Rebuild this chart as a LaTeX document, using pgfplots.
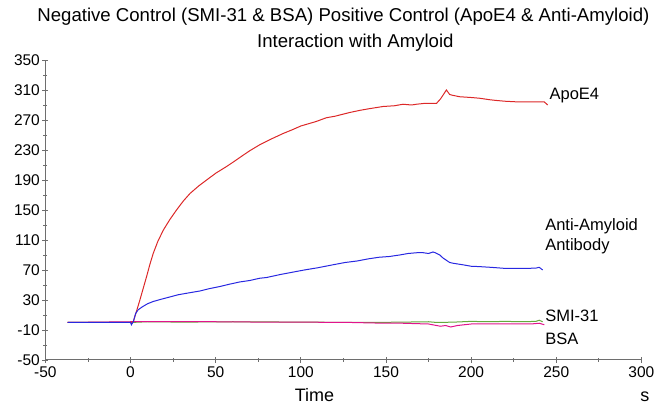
\documentclass[border=0pt]{standalone}
\usepackage{fontspec}
\setmainfont{Liberation Sans}
\usepackage{pgfplots}
\pgfplotsset{compat=1.18}

\definecolor{apoe}{RGB}{220,40,40}
\definecolor{anti}{RGB}{40,40,225}
\definecolor{smi}{RGB}{100,170,60}
\definecolor{bsa}{RGB}{225,20,140}
\definecolor{axisgray}{RGB}{110,110,110}

\begin{document}
\begin{tikzpicture}
\begin{axis}[
    name=ax,
    scale only axis,
    width=596pt, height=300pt,
    xmin=-50, xmax=300,
    ymin=-50, ymax=350,
    xtick={-50,0,...,300},
    ytick={-50,-10,...,350},
    minor x tick num=1,
    minor y tick num=1,
    axis lines*=left,
    axis line style={axisgray, line width=1pt, -},
    tick style={axisgray, line width=0.8pt},
    major tick length=6pt,
    minor tick length=4pt,
    tick align=center,
    /pgf/number format/assume math mode=true,
    ticklabel style={font=\fontsize{15.5}{17}\selectfont},
    yticklabel style={xshift=1pt},
    clip=false,
]
% pre-injection baseline and curves
\addplot[color=smi, line width=1pt] coordinates {
(-37,0) (0,0) (10,1) (30,0.5) (60,1) (100,0.5) (140,0) (160,0.5) (175,1) (180,0)
(190,0.5) (200,1.5) (210,1) (220,1.5) (230,1) (238,1.5) (240,3) (242,1)
};
\addplot[color=bsa, line width=1pt] coordinates {
(-37,0) (0,1) (20,1) (50,1) (80,0.5) (100,0.5) (130,0) (150,-1) (160,-1) (175,-2)
(182,-5) (185,-4) (188,-6) (192,-4) (200,-2) (220,-2) (235,-2) (240,-1) (243,-3)
};
\addplot[color=apoe, line width=1pt] coordinates {
(-37,0) (0,0) (1.6,1) (3.5,15) (5.5,30) (7.5,46) (9.4,61) (11.3,77) (13.3,92) (16,108)
(19.2,123) (23,137) (27,150) (31,162) (34.9,172) (40,182) (44.7,190) (50,199) (56.4,208)
(61,215) (66.1,223) (70,229) (75.9,237) (82,244) (89.6,252) (95,257) (100,262) (109,268)
(115,273) (120,275) (128.7,280) (135,283) (140,285) (148.3,288) (155,289) (160,291)
(165,290) (167.9,291) (172,292) (179.6,292) (182,298) (185.5,310) (187.4,304) (189,303)
(193.3,301) (200,300) (205,299) (211,297) (215,296) (220,295) (228.5,294) (235,294)
(240,294) (243,294) (245,290)
};
\addplot[color=anti, line width=1pt] coordinates {
(-37,0) (0,0) (0.5,-3) (1.6,1) (3,12) (4.5,17) (7,21) (10,25) (13.3,28) (18,31) (23,34)
(28,37) (33,39) (40.7,42) (46,45) (52.5,48) (58,51) (64,54) (70,56) (75.9,59) (79.9,60)
(88,64) (95,67) (102,70) (110,73) (119,77) (126,80) (133,82) (140,85) (146,87) (152,88)
(158,90) (163,92) (168,93) (172,93) (175,92) (177.6,94) (179,93) (181.6,90) (183.5,86)
(187.4,80) (189.4,79) (195,77) (200,75) (205,74.5) (212,73.5) (220.7,72) (230,72)
(238,72.5) (240,73.6) (242,70)
};

% curve labels
\node[anchor=west, font=\fontsize{16.5}{18}\selectfont] at (axis cs:244,303) {ApoE4};
\node[anchor=west, font=\fontsize{16.5}{19.5}\selectfont, align=left] at (axis cs:241.5,115) {Anti-Amyloid\\Antibody};
\node[anchor=west, font=\fontsize{16.5}{18}\selectfont] at (axis cs:241.5,9) {SMI-31};
\node[anchor=west, font=\fontsize{16.5}{18}\selectfont] at (axis cs:241.5,-22) {BSA};

% title and axis labels
\node[anchor=base, font=\fontsize{18.6}{20}\selectfont] at (rel axis cs:0.5,1.1267) {Negative Control (SMI-31 \& BSA) Positive Control (ApoE4 \& Anti-Amyloid)};
\node[anchor=base, font=\fontsize{18.6}{20}\selectfont] at (rel axis cs:0.52,1.0433) {Interaction with Amyloid};
\node[anchor=base, font=\fontsize{18}{20}\selectfont] at (axis cs:108,-50) [yshift=-42pt] {Time};
\node[anchor=base, font=\fontsize{18}{20}\selectfont] at (axis cs:302,-50) [yshift=-42pt] {s};
\end{axis}
\pgfresetboundingbox
\path (ax.south west) ++(-45.4pt,-46pt) rectangle ++(667pt,406pt);
\end{tikzpicture}
\end{document}
